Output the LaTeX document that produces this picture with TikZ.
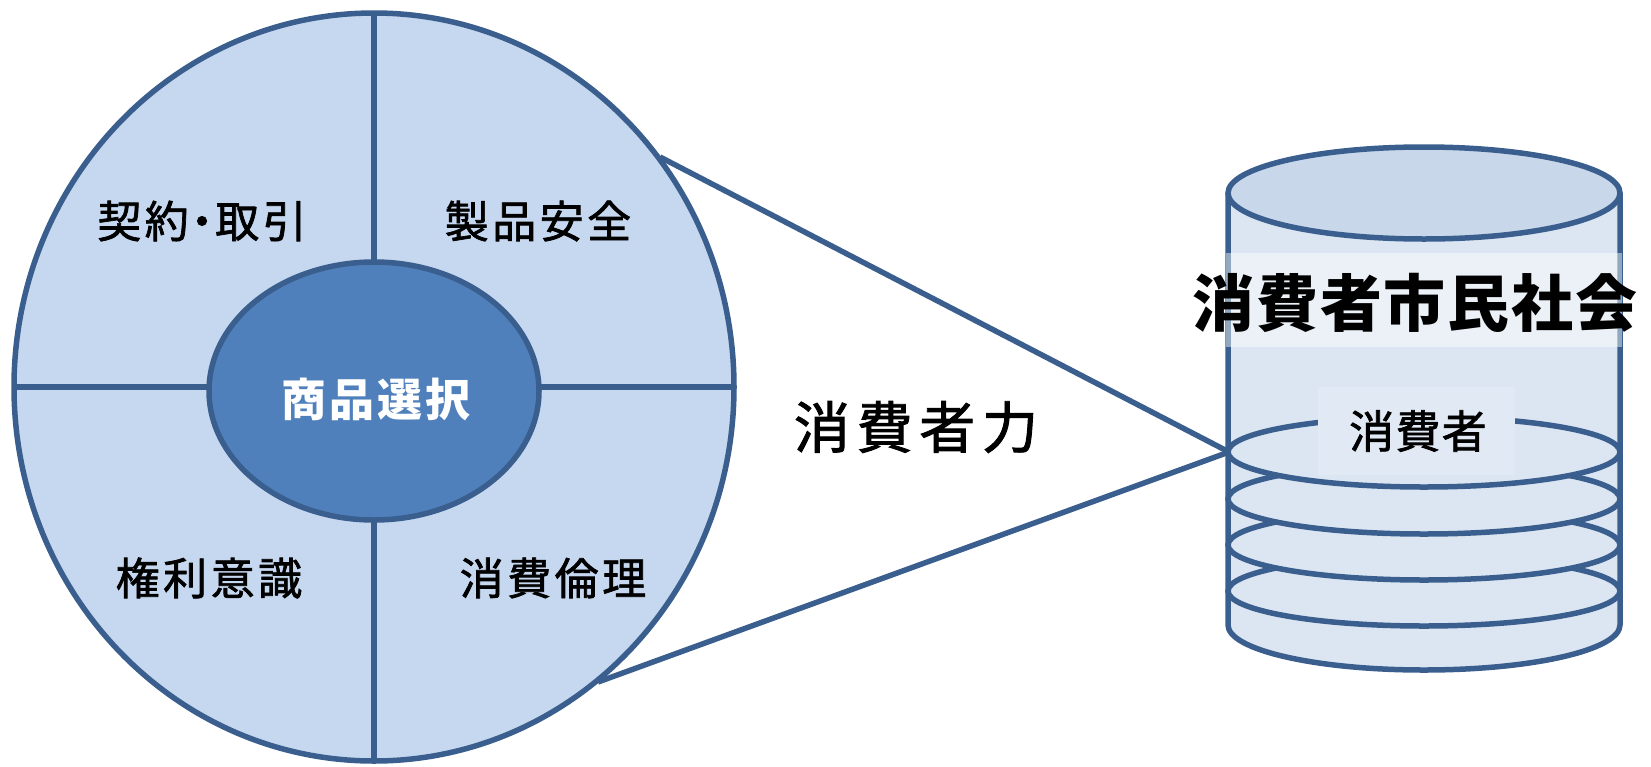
\documentclass[tikz,border=0pt]{standalone}
\usepackage{fontspec}
\setmainfont{Noto Sans CJK JP}
\definecolor{linec}{HTML}{3A5F8E}
\definecolor{circfill}{HTML}{C6D8EF}
\definecolor{innerc}{HTML}{4F80BC}
\definecolor{bodyc}{HTML}{DCE6F2}
\definecolor{topc}{HTML}{C8D7EA}
\begin{document}
\begin{tikzpicture}[x=1pt,y=1pt,
  edge/.style={draw=linec,line width=5.5pt},
  quadtxt/.style={font=\addfontfeature{LetterSpace=8,FakeBold=1.6}\fontsize{44}{50}\selectfont,text=black,inner sep=0pt},
  centertxt/.style={font=\addfontfeature{LetterSpace=6}\fontsize{45}{50}\selectfont\bfseries,text=white,inner sep=0pt},
  bigtxt/.style={font=\addfontfeature{LetterSpace=12,FakeBold=1.6}\fontsize{56}{60}\selectfont,text=black,inner sep=0pt},
  titletxt/.style={font=\addfontfeature{LetterSpace=3}\fontsize{62}{66}\selectfont\bfseries,text=black,inner sep=0pt},
  labeltxt/.style={font=\addfontfeature{LetterSpace=3,FakeBold=1.6}\fontsize{45}{50}\selectfont,text=black,inner sep=0pt}]
\useasboundingbox (0,0) rectangle (1651,-766);

% ---- left disc ----
\draw[edge,fill=circfill] (374,-387) ellipse[x radius=360,y radius=374];
\draw[edge] (374,-13) -- (374,-761);
\draw[edge] (14,-387) -- (734,-387);
\draw[edge,fill=innerc] (374,-391) ellipse[x radius=165,y radius=129];

\node[quadtxt] (keiyaku) at (202,-221) {契約\kern-0.2em・\kern-0.2em取引};
\node[quadtxt] (seihin) at (538,-221) {製品安全};
\node[centertxt] (shohin) at (376,-399) {商品選択};
\node[quadtxt] (kenri) at (209,-578) {権利意識};
\node[quadtxt] (rinri) at (553,-578) {消費倫理};

% ---- connectors ----
\coordinate (ua) at (660,-157);
\coordinate (la) at (598,-682);
\coordinate (cp) at (1229,-452);
\draw[edge] (ua) -- (cp);
\draw[edge] (la) -- (cp);

\node[bigtxt] (power) at (916,-427) {消費者力};

% ---- cylinder ----
\fill[bodyc] (1228,-193) -- (1228,-625) arc[start angle=180,end angle=360,x radius=196,y radius=45] -- (1620,-193) -- cycle;
\draw[edge,line join=round] (1228,-193) -- (1228,-625) arc[start angle=180,end angle=360,x radius=196,y radius=45] -- (1620,-193);
\draw[edge,fill=topc] (1424,-193) ellipse[x radius=196,y radius=46];
\foreach \yy in {591,545,499,452}{
  \draw[edge,fill=bodyc] (1424,-\yy) ellipse[x radius=196,y radius=35];
}
\node[fill=bodyc!85!white,minimum width=197,minimum height=88,inner sep=0pt] (lblbox) at (1416.5,-431) {};
\node[labeltxt] (consumer) at (1418,-431) {消費者};

\fill[white,opacity=0.45] (1226,-253) rectangle (1622,-347);
\node[titletxt] (title) at (1415,-303) {消費者市民社会};
\end{tikzpicture}
\end{document}
